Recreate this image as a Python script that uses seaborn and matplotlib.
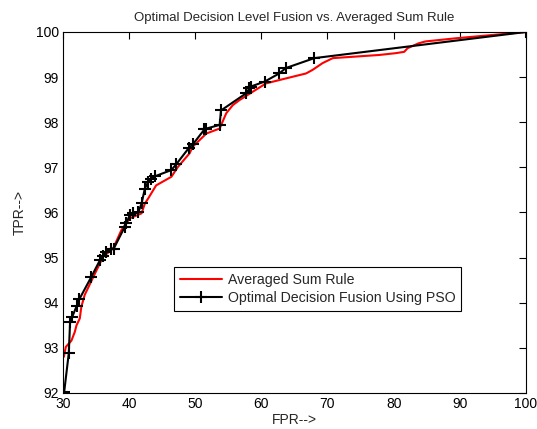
import matplotlib
matplotlib.use("Agg")
import matplotlib.pyplot as plt
import seaborn as sns
import pandas as pd

# Averaged Sum Rule (red)
avg_fpr = [30.15, 30.45, 31.3, 31.8, 32.07, 32.56, 32.8, 33.3, 34.6, 36.1, 37.6, 38.85,
           40.1, 41.9, 42.4, 42.9, 44.1, 46.4, 47.4, 49.15, 49.65, 51.7, 53.7, 54.7,
           55.7, 56.7, 60.7, 63.7, 66.75, 67.75, 69.26, 70.8, 77.8, 80.3, 81.6, 82.1,
           83.8, 84.8, 89.4, 100.0]
avg_tpr = [92.8, 93.02, 93.16, 93.35, 93.5, 93.65, 93.91, 94.17, 94.57, 95.02, 95.2, 95.61,
           95.87, 95.98, 96.2, 96.31, 96.6, 96.79, 97.01, 97.31, 97.46, 97.75, 97.86, 98.2,
           98.38, 98.49, 98.86, 98.97, 99.08, 99.16, 99.31, 99.42, 99.49, 99.53, 99.56, 99.64,
           99.75, 99.79, 99.86, 100.0]

# Optimal Decision Fusion Using PSO (black, + markers)
pso_fpr = [30.2, 30.9, 31.1, 31.4, 32.1, 32.5, 34.3, 35.6, 36.0, 36.6, 37.3, 37.7,
           39.35, 39.6, 40.1, 40.6, 41.4, 41.9, 42.4, 42.9, 43.4, 43.9, 46.4, 47.15,
           49.05, 49.65, 51.4, 51.7, 53.7, 53.9, 57.7, 58.2, 58.4, 60.5, 62.7, 63.7,
           68.0, 100.0]
pso_tpr = [92.02, 92.88, 93.58, 93.68, 93.93, 94.08, 94.57, 94.94, 95.03, 95.13, 95.2, 95.2,
           95.68, 95.76, 95.94, 95.98, 96.0, 96.2, 96.53, 96.68, 96.75, 96.8, 96.94, 97.07,
           97.43, 97.51, 97.84, 97.86, 97.94, 98.26, 98.64, 98.75, 98.79, 98.9, 99.08, 99.2,
           99.42, 100.0]

x_ticks = [30, 40, 50, 60, 70, 80, 90, 100]
y_ticks = [92, 93, 94, 95, 96, 97, 98, 99, 100]

sns.set_style("white")
plt.rcParams["font.family"] = ["Liberation Sans", "DejaVu Sans"]

fig = plt.figure(figsize=(5.37, 4.29), dpi=100)
ax = fig.add_axes([0.117, 0.084, 0.8625, 0.8415])

df_avg = pd.DataFrame({"FPR": avg_fpr, "TPR": avg_tpr})
df_pso = pd.DataFrame({"FPR": pso_fpr, "TPR": pso_tpr})

sns.lineplot(data=df_avg, x="FPR", y="TPR", ax=ax, color="#ff0000", linewidth=1.5,
             sort=False, estimator=None, label="Averaged Sum Rule")
sns.lineplot(data=df_pso, x="FPR", y="TPR", ax=ax, color="black", linewidth=1.5,
             marker="+", markersize=8, markeredgewidth=1.5, markeredgecolor="black",
             sort=False, estimator=None, label="Optimal Decision Fusion Using PSO")

ax.set_xlim(30, 100)
ax.set_ylim(92, 100)
ax.set_xticks(x_ticks)
ax.set_yticks(y_ticks)
ax.tick_params(direction="in", length=5, width=0.8, labelsize=10, top=True, right=True,
               colors="black", pad=3)
for s in ax.spines.values():
    s.set_color("black")
    s.set_linewidth(0.8)

ax.set_title("Optimal Decision Level Fusion vs. Averaged Sum Rule", fontsize=9.5, pad=8)
ax.set_xlabel("FPR-->", fontsize=10, labelpad=1)
ax.set_ylabel("TPR-->", fontsize=10, labelpad=6)

leg = ax.legend(loc="upper left", bbox_to_anchor=(0.24, 0.349), fontsize=10.2,
                frameon=True, fancybox=False, edgecolor="black", framealpha=1,
                handlelength=3.0, borderpad=0.4, labelspacing=0.3, handletextpad=0.4,
                borderaxespad=0)
leg.get_frame().set_linewidth(0.8)

fig.savefig("out.png", dpi=100)
